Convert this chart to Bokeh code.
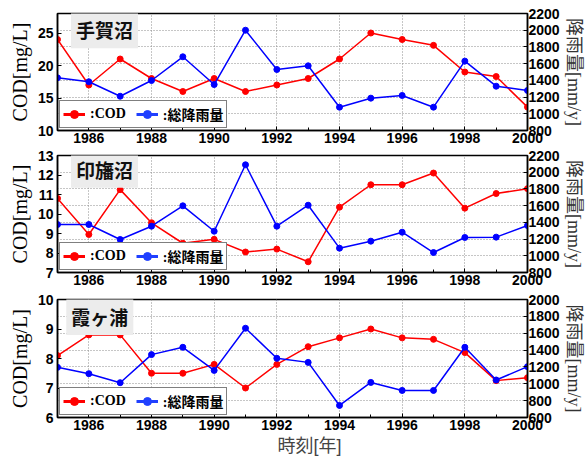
from bokeh.plotting import figure
from bokeh.models import (LinearAxis, Range1d, FixedTicker, Label, Legend,
                          LegendItem, ColumnDataSource, Title)
from bokeh.layouts import column
from bokeh.embed import file_html
from bokeh.resources import INLINE

# ---- data -------------------------------------------------------------
years = list(range(1985, 2001))

lake_names = ["手賀沼", "印旛沼", "霞ヶ浦"]

teganuma_cod = [24.0, 17.0, 21.0, 18.0, 16.0, 18.0, 16.0, 17.0, 18.0, 21.0,
                25.0, 24.0, 23.1, 19.0, 18.3, 13.6]
teganuma_rain = [1430, 1383, 1210, 1398, 1682, 1350, 2000, 1530, 1574, 1079,
                 1187, 1219, 1079, 1630, 1330, 1279]

inbanuma_cod = [10.8, 8.95, 11.25, 9.55, 8.5, 8.7, 8.05, 8.2, 7.55, 10.35,
                11.5, 11.5, 12.1, 10.3, 11.05, 11.3]
inbanuma_rain = [1374, 1374, 1195, 1354, 1598, 1294, 2089, 1354, 1605, 1091,
                 1175, 1282, 1039, 1219, 1223, 1362]

kasumigaura_cod = [8.1, 8.8, 8.8, 7.5, 7.5, 7.8, 7.0, 7.8, 8.4, 8.7,
                   9.0, 8.7, 8.65, 8.2, 7.25, 7.35]
kasumigaura_rain = [1195, 1120, 1013, 1346, 1433, 1159, 1659, 1302, 1254, 743,
                    1016, 921, 921, 1433, 1045, 1203]

cod_ranges = [(10, 28), (7, 13), (6, 10)]
cod_ticks = [[10, 15, 20, 25], [7, 8, 9, 10, 11, 12, 13], [6, 7, 8, 9, 10]]
rain_ranges = [(800, 2200), (800, 2200), (600, 2000)]
rain_ticks = [list(range(800, 2201, 200)), list(range(800, 2201, 200)),
              list(range(600, 2001, 200))]
year_ticks = list(range(1986, 2001, 2))
year_minor = list(range(1985, 2001, 2))

time_label = "時刻[年]"

# position of each lake-name box (data coords: year, COD)
name_pos = [(1986.5, 25.5), (1986.5, 12.3), (1986.35, 9.42)]

LABEL_FONT = "Liberation Sans"
SERIF_CJK = "Liberation Serif, Noto Sans CJK JP"
SANS_CJK = "Liberation Sans, Noto Sans CJK JP"
CJK = "Noto Sans CJK JP"
NAN = float("nan")


def make_panel(i, cod, rain, top, bottom, frame_h):
    p = figure(frame_width=470, frame_height=frame_h,
               x_range=Range1d(1985, 2000),
               y_range=Range1d(*cod_ranges[i]),
               output_backend="svg", toolbar_location=None,
               min_border_left=57, min_border_right=58,
               min_border_top=top, min_border_bottom=bottom,
               background_fill_color="white", border_fill_color="white")
    p.extra_y_ranges = {"rain": Range1d(*rain_ranges[i])}

    p.outline_line_color = "black"
    p.outline_line_width = 1.5

    # x axis
    xa = p.xaxis[0]
    xa.ticker = FixedTicker(ticks=year_ticks, minor_ticks=year_minor)
    xa.major_label_text_font = LABEL_FONT
    xa.major_label_text_font_style = "bold"
    xa.major_label_text_font_size = "14px"
    xa.major_label_text_color = "black"
    xa.major_label_standoff = 2
    xa.major_tick_in = 4
    xa.major_tick_out = 0
    xa.minor_tick_in = 3
    xa.minor_tick_out = 0
    xa.axis_line_color = "black"
    xa.axis_line_width = 1.5

    # left axis (COD)
    ya = p.yaxis[0]
    ya.ticker = FixedTicker(ticks=cod_ticks[i])
    ya.major_label_text_font = LABEL_FONT
    ya.major_label_text_font_style = "bold"
    ya.major_label_text_font_size = "14px"
    ya.major_label_text_color = "black"
    ya.major_label_standoff = 4
    ya.major_tick_in = 4
    ya.major_tick_out = 0
    ya.minor_tick_line_color = None
    ya.axis_line_color = "black"
    ya.axis_line_width = 1.5
    ya.axis_label = "COD[mg/L]"
    ya.axis_label_text_font = "Liberation Serif"
    ya.axis_label_text_font_style = "normal"
    ya.axis_label_text_font_size = "20px"
    ya.axis_label_text_color = "black"
    ya.axis_label_standoff = 4

    # right axis (rainfall)
    ra = LinearAxis(y_range_name="rain", ticker=FixedTicker(ticks=rain_ticks[i]))
    ra.major_label_text_font = LABEL_FONT
    ra.major_label_text_font_style = "bold"
    ra.major_label_text_font_size = "14px"
    ra.major_label_text_color = "black"
    ra.major_label_standoff = 1
    ra.major_tick_in = 4
    ra.major_tick_out = 0
    ra.minor_tick_line_color = None
    ra.axis_line_color = "black"
    ra.axis_line_width = 1.5
    ra.axis_label = "降雨量[mm/y]"
    ra.axis_label_text_font = SERIF_CJK
    ra.axis_label_text_font_style = "normal"
    ra.axis_label_text_font_size = "18px"
    ra.axis_label_text_color = "#333333"
    ra.axis_label_standoff = 1
    p.add_layout(ra, "right")

    # grids: vertical at even years, horizontal at rainfall ticks
    p.xgrid[0].ticker = FixedTicker(ticks=year_ticks)
    p.xgrid[0].grid_line_color = "#8c8c8c"
    p.xgrid[0].grid_line_dash = "1 2"
    p.xgrid[0].grid_line_width = 1
    p.ygrid[0].y_range_name = "rain"
    p.ygrid[0].ticker = FixedTicker(ticks=rain_ticks[i])
    p.ygrid[0].grid_line_color = "#8c8c8c"
    p.ygrid[0].grid_line_dash = "1 2"
    p.ygrid[0].grid_line_width = 1

    src = ColumnDataSource(dict(year=years, cod=cod, rain=rain))
    p.line("year", "cod", source=src, line_color="#ff0000", line_width=1.5)
    p.scatter("year", "cod", source=src, fill_color="#ff0000",
              line_color="#ff0000", size=6)
    p.line("year", "rain", source=src, y_range_name="rain",
           line_color="#0000ff", line_width=1.5)
    p.scatter("year", "rain", source=src, y_range_name="rain",
              fill_color="#0000ff", line_color="#0000ff", size=6)

    # legend-only glyphs (heavier than the plotted ones); NaN keeps them off the plot
    blank = ColumnDataSource(dict(x=[NAN], y=[NAN]))
    lr = p.line("x", "y", source=blank, line_color="#ff0000", line_width=3)
    sr = p.scatter("x", "y", source=blank, fill_color="#ff0000",
                   line_color="#ff0000", size=10)
    lb = p.line("x", "y", source=blank, line_color="#2040ff", line_width=3)
    sb = p.scatter("x", "y", source=blank, fill_color="#2040ff",
                   line_color="#2040ff", size=10)
    legend = Legend(items=[LegendItem(label=":COD", renderers=[lr, sr]),
                           LegendItem(label=":総降雨量", renderers=[lb, sb])],
                    location="bottom_left", orientation="horizontal",
                    margin=2, padding=3, spacing=10,
                    glyph_width=22, glyph_height=20, label_standoff=5,
                    label_text_font=SERIF_CJK, label_text_font_style="bold",
                    label_text_font_size="14px", label_text_color="black",
                    border_line_color="black", border_line_width=1.5,
                    background_fill_color="white", background_fill_alpha=1)
    p.add_layout(legend, "center")

    # lake name in a grey box
    nx, ny = name_pos[i]
    p.add_layout(Label(x=nx, y=ny, text=lake_names[i],
                       text_font=CJK, text_font_style="bold",
                       text_font_size="19px", text_color="#111111",
                       text_align="center", text_baseline="middle",
                       background_fill_color="#ececec", padding=5))
    return p


p1 = make_panel(0, teganuma_cod, teganuma_rain, 13, 18, 117)
p2 = make_panel(1, inbanuma_cod, inbanuma_rain, 7, 18, 117)
p3 = make_panel(2, kasumigaura_cod, kasumigaura_rain, 9, 0, 118)

# shared time label under the bottom panel
p3.add_layout(Title(text=time_label, align="left", offset=220, standoff=2,
                    text_font=SANS_CJK, text_font_size="18px",
                    text_font_style="normal", text_color="#444444"),
              "below")

layout = column(p1, p2, p3, spacing=0)

open("out.html", "w").write(file_html(layout, INLINE))
